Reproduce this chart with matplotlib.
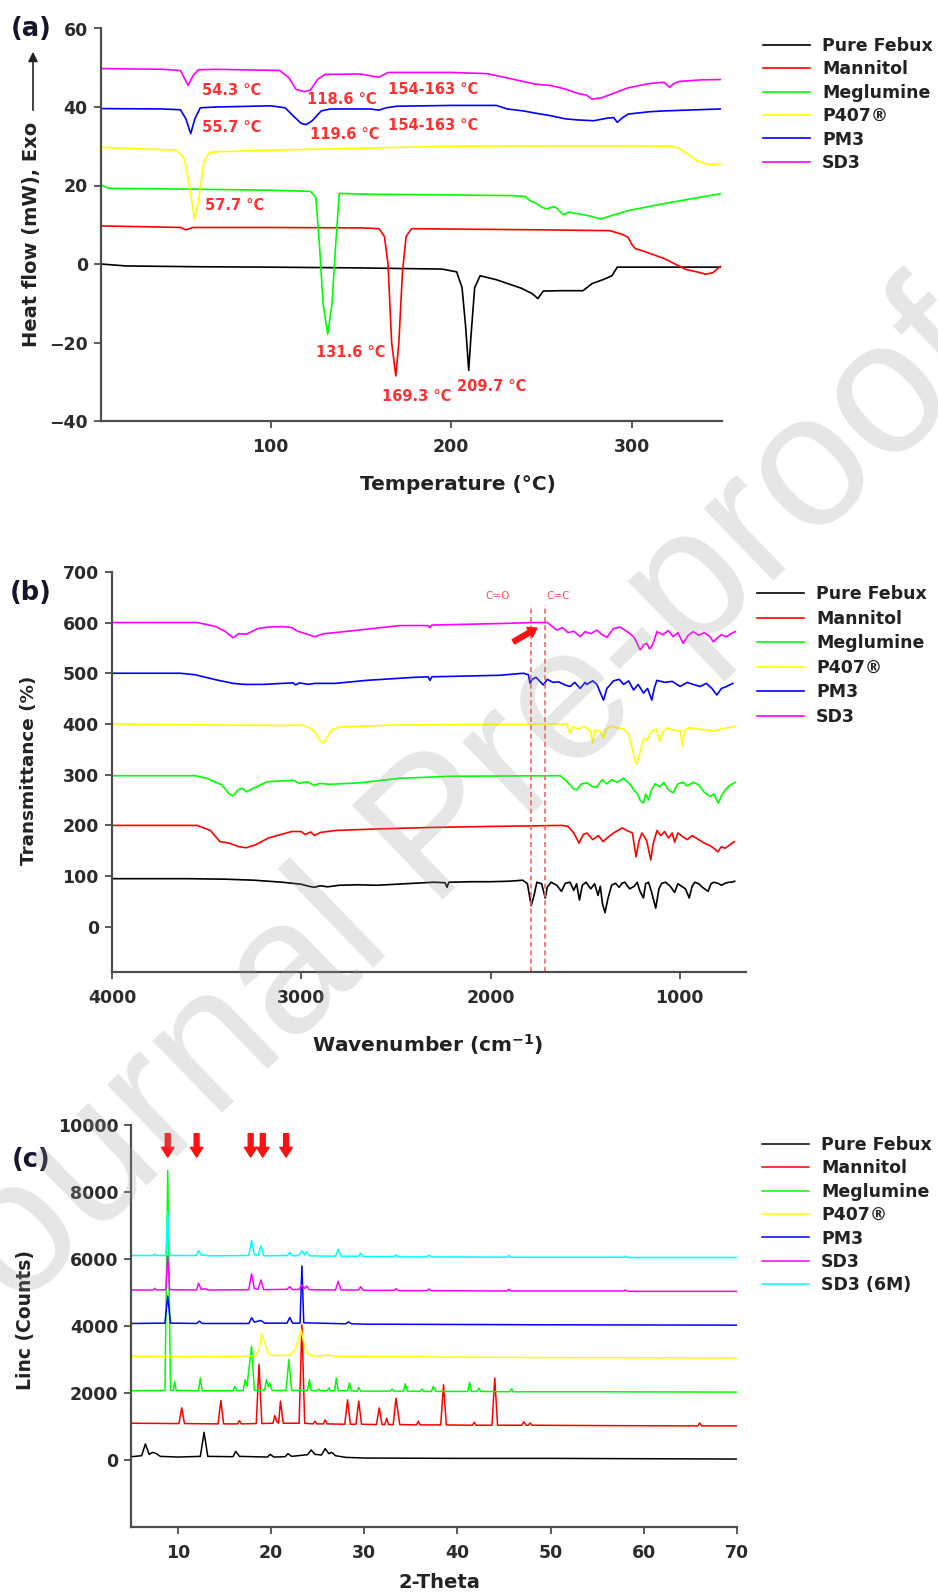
import matplotlib.pyplot as plt
import numpy as np

plt.rcParams['font.family'] = ['DejaVu Sans']
plt.rcParams['font.weight'] = 'bold'

labels = ['Pure Febux', 'Mannitol', 'Meglumine', 'P407®', 'PM3', 'SD3', 'SD3 (6M)']
colors = ['#000000', '#ff0000', '#00ff00', '#ffff00', '#0000ff', '#ff00ff', '#00ffff']

# ---------------- (a) DSC: temperature (C), heat flow (mW) ----------------
febux_dsc = [(6, 0.0), (20, -0.5), (60, -0.7), (100, -0.8), (150, -1.0), (195, -1.3), (203, -2.0),
             (206, -6), (208, -16), (209.7, -27.1), (211, -18), (213, -6), (216, -3), (225, -4),
             (239, -6.2), (245, -7.6), (248, -8.8), (251, -6.9), (260, -6.8), (273, -6.8), (278, -5),
             (284, -4), (289, -3), (292, -0.8), (320, -0.8), (349, -0.8)]
mannitol_dsc = [(6, 9.7), (30, 9.5), (50, 9.3), (53, 8.7), (57, 9.3), (100, 9.3), (150, 9.2), (160, 9.0),
                (163, 7), (165, 0), (167, -20), (169.3, -28.5), (171, -20), (173, -2), (175, 7), (178, 9.0),
                (200, 8.9), (250, 8.7), (288, 8.5), (295, 7.5), (298, 6.8), (300, 5), (302, 3.9), (305, 3.5),
                (318, 1.4), (330, -1.4), (336, -2), (341, -2.6), (345, -2.2), (349, -0.6)]
meglumine_dsc = [(6, 20.2), (10, 19.3), (50, 19.1), (100, 18.8), (122, 18.5), (125, 17), (127, 5), (129, -10),
                 (131.6, -17.9), (134, -10), (136, 5), (138, 18), (150, 17.8), (200, 17.6), (235, 17.4),
                 (241, 17.2), (244, 16.0), (247, 15.5), (250, 14.5), (253, 14), (256, 14.6), (258, 14.4),
                 (262, 12.6), (265, 13.2), (270, 12.8), (275, 12.4), (283, 11.5), (290, 12.5), (298, 13.6),
                 (318, 15.4), (349, 17.9)]
p407_dsc = [(6, 29.7), (30, 29.3), (48, 29.0), (52, 27), (55, 20), (57.7, 11.5), (60, 16), (63, 26), (66, 28.4),
            (70, 28.6), (100, 29), (150, 29.5), (200, 30), (250, 30.1), (300, 30.1), (322, 30), (326, 29.6),
            (336, 26.3), (343, 25.3), (349, 25.5)]
pm3_dsc = [(6, 39.6), (40, 39.5), (50, 39.3), (53, 37), (55.7, 33.2), (58, 37), (61, 39.8), (70, 40), (100, 40.3),
           (108, 39.8), (113, 37.5), (117, 35.8), (119.6, 35.5), (123, 36.5), (128, 39), (133, 39.5), (155, 39.5),
           (160, 39.2), (164, 39.8), (170, 40.2), (200, 40.4), (225, 40.4), (231, 39.5), (240, 39), (247, 38.4),
           (255, 37.8), (263, 37), (270, 36.7), (279, 36.5), (287, 37.2), (290, 37.3), (292, 36.1), (295, 37.3),
           (298, 38.2), (310, 38.8), (318, 39), (349, 39.5)]
sd3_dsc = [(6, 49.8), (40, 49.6), (50, 49.3), (52, 47.5), (54.3, 45.5), (57, 48), (60, 49.5), (70, 49.6),
           (105, 49.3), (110, 47.5), (114, 44.5), (118.6, 43.9), (122, 44.3), (126, 47), (130, 48.3), (150, 48.4),
           (157, 47.8), (160, 47.6), (165, 48.8), (200, 48.8), (220, 48.5), (225, 48), (235, 47), (240, 46.5),
           (247, 45.8), (255, 45.5), (263, 44.6), (270, 43.5), (275, 43), (278, 42), (283, 42.3), (290, 43.5),
           (298, 44.9), (310, 46), (318, 46.3), (321, 45), (323, 45.9), (326, 46.5), (338, 46.9), (349, 47)]

# peak labels: text, temperature, heat flow of the label's left edge
dsc_notes = [('54.3 °C', 62, 44.2), ('118.6 °C', 120, 41.8), ('154-163 °C', 165, 44.5),
             ('55.7 °C', 62, 34.7), ('119.6 °C', 122, 33.0), ('154-163 °C', 165, 35.2),
             ('57.7 °C', 63.5, 15.0), ('131.6 °C', 125, -22.5), ('169.3 °C', 161.5, -33.8),
             ('209.7 °C', 203, -31.3)]

# ---------------- (b) FTIR: wavenumber (cm-1), transmittance (%) ----------------
febux_ir = [(4000, 95), (3600, 95), (3400, 94), (3250, 92), (3100, 88), (3000, 84), (2960, 80), (2930, 78),
            (2900, 81), (2860, 79), (2800, 82), (2700, 83), (2600, 82), (2500, 84), (2400, 86), (2300, 88),
            (2240, 87), (2230, 78), (2220, 88), (2100, 89), (2000, 89), (1900, 90), (1830, 92), (1805, 85),
            (1785, 42), (1770, 62), (1755, 88), (1730, 85), (1711, 57), (1700, 78), (1680, 88), (1650, 82),
            (1625, 70), (1605, 86), (1580, 88), (1560, 72), (1545, 85), (1530, 53), (1515, 82), (1495, 88),
            (1470, 75), (1450, 85), (1432, 62), (1420, 80), (1408, 45), (1395, 28), (1380, 55), (1360, 82),
            (1340, 86), (1320, 78), (1305, 86), (1290, 88), (1265, 75), (1241, 80), (1225, 88), (1210, 70),
            (1192, 57), (1180, 85), (1165, 88), (1150, 70), (1127, 37), (1110, 75), (1095, 86), (1075, 88),
            (1050, 80), (1027, 68), (1010, 85), (990, 80), (970, 75), (950, 57), (935, 80), (920, 88),
            (900, 85), (880, 78), (850, 70), (835, 85), (820, 88), (799, 86), (780, 82), (760, 86),
            (740, 88), (723, 88), (710, 90)]
mannitol_ir = [(4000, 200), (3550, 200), (3480, 190), (3430, 168), (3380, 165), (3330, 158), (3290, 156),
               (3240, 162), (3175, 175), (3100, 183), (3050, 188), (3000, 188), (2980, 182), (2950, 187),
               (2930, 180), (2900, 186), (2821, 190), (2600, 193), (2316, 196), (2000, 198), (1620, 200),
               (1590, 198), (1560, 185), (1532, 165), (1510, 182), (1490, 185), (1460, 172), (1430, 180),
               (1405, 168), (1385, 175), (1350, 185), (1305, 195), (1280, 190), (1250, 185), (1231, 138),
               (1215, 170), (1200, 185), (1175, 170), (1153, 132), (1140, 165), (1120, 190), (1100, 180),
               (1080, 188), (1060, 175), (1040, 185), (1027, 167), (1010, 185), (985, 178), (960, 172),
               (935, 180), (900, 172), (870, 165), (840, 160), (820, 155), (799, 148), (780, 158),
               (760, 155), (735, 162), (712, 168)]
meglumine_ir = [(4000, 298), (3560, 298), (3500, 293), (3420, 280), (3380, 262), (3360, 258), (3335, 270),
                (3310, 273), (3290, 266), (3260, 272), (3181, 286), (3043, 289), (3010, 283), (2970, 286),
                (2930, 279), (2900, 283), (2850, 281), (2690, 284), (2478, 293), (2200, 297), (1632, 298),
                (1600, 288), (1560, 272), (1544, 270), (1520, 282), (1490, 284), (1460, 276), (1438, 276),
                (1410, 290), (1385, 282), (1360, 290), (1330, 285), (1297, 293), (1260, 280), (1240, 268),
                (1226, 264), (1210, 250), (1192, 244), (1180, 262), (1165, 250), (1150, 270), (1130, 282),
                (1104, 276), (1085, 285), (1060, 270), (1035, 264), (1010, 282), (982, 285), (960, 278),
                (929, 285), (900, 280), (870, 265), (839, 257), (820, 262), (796, 244), (780, 258),
                (760, 270), (740, 278), (707, 285)]
p407_ir = [(4000, 400), (3500, 398), (3100, 397), (3000, 398), (2960, 393), (2930, 385), (2905, 370),
           (2885, 362), (2865, 372), (2840, 388), (2800, 394), (2500, 398), (2000, 399), (1597, 400),
           (1580, 382), (1565, 395), (1540, 390), (1510, 395), (1474, 388), (1460, 362), (1450, 388),
           (1420, 385), (1403, 372), (1390, 390), (1360, 396), (1330, 392), (1297, 390), (1270, 380),
           (1250, 350), (1235, 325), (1226, 322), (1210, 345), (1190, 372), (1174, 368), (1150, 385),
           (1125, 390), (1110, 372), (1104, 366), (1090, 385), (1068, 392), (1030, 388), (998, 386),
           (985, 356), (975, 388), (950, 393), (900, 390), (850, 388), (824, 386), (780, 390),
           (740, 393), (707, 395)]
pm3_ir = [(4000, 500), (3640, 500), (3560, 497), (3450, 487), (3360, 480), (3300, 478), (3200, 478),
          (3100, 480), (3043, 481), (3030, 477), (3010, 481), (2960, 478), (2930, 480), (2820, 480),
          (2654, 486), (2400, 492), (2330, 493), (2320, 486), (2310, 493), (1950, 496), (1826, 500),
          (1800, 497), (1791, 480), (1780, 488), (1760, 492), (1721, 477), (1700, 488), (1670, 482),
          (1640, 483), (1600, 476), (1579, 474), (1555, 482), (1526, 470), (1500, 482), (1491, 478),
          (1460, 485), (1438, 478), (1403, 447), (1385, 470), (1350, 485), (1320, 488), (1297, 478),
          (1270, 485), (1244, 467), (1220, 478), (1192, 461), (1170, 470), (1148, 447), (1135, 470),
          (1121, 486), (1080, 482), (1040, 484), (998, 474), (960, 482), (930, 478), (892, 474),
          (860, 480), (830, 470), (804, 457), (780, 470), (752, 474), (720, 480)]
sd3_ir = [(4000, 600), (3550, 600), (3450, 592), (3400, 582), (3360, 570), (3330, 578), (3290, 577),
          (3230, 588), (3180, 591), (3100, 592), (3050, 590), (3020, 583), (2960, 576), (2930, 572),
          (2880, 578), (2800, 581), (2650, 587), (2480, 594), (2330, 594), (2320, 590), (2310, 595),
          (1950, 598), (1760, 600), (1700, 600), (1649, 585), (1620, 590), (1590, 580), (1560, 583),
          (1526, 572), (1500, 582), (1470, 578), (1438, 585), (1410, 576), (1385, 571), (1350, 588),
          (1315, 591), (1290, 585), (1262, 578), (1240, 570), (1209, 546), (1190, 556), (1174, 559),
          (1160, 548), (1148, 553), (1135, 565), (1121, 582), (1090, 576), (1060, 584), (1035, 572),
          (1010, 580), (982, 559), (955, 575), (929, 582), (900, 575), (870, 580), (840, 572),
          (823, 562), (800, 570), (780, 576), (752, 572), (730, 578), (707, 582)]

bond_lines = [1788, 1711]
bond_labels = [('C=O', 1962), ('C=C', 1645)]

# ---------------- (c) XRD: 2-theta, counts ----------------
febux_xrd = [(5, 100), (6.1, 130), (6.5, 480), (6.9, 170), (7.3, 230), (7.7, 190), (8.1, 110), (10, 90),
             (12.4, 110), (12.8, 830), (13.2, 110), (15.9, 100), (16.2, 260), (16.6, 110), (19.6, 90),
             (19.9, 170), (20.3, 90), (21.5, 100), (21.8, 190), (22.2, 110), (23.9, 160), (24.3, 300),
             (24.7, 170), (25.4, 150), (25.8, 340), (26.2, 190), (26.5, 230), (26.9, 130), (28, 80),
             (30, 60), (40, 50), (50, 50), (60, 40), (70, 30)]
mannitol_xrd = [(5, 1100), (10.1, 1090), (10.4, 1560), (10.7, 1090), (14.3, 1080), (14.6, 1780), (14.9, 1080),
                (16.4, 1080), (16.6, 1180), (16.8, 1080), (18.4, 1090), (18.7, 2860), (19.0, 1090),
                (20.2, 1100), (20.4, 1330), (20.6, 1150), (20.8, 1100), (21.0, 1760), (21.3, 1100),
                (23.0, 1100), (23.3, 4040), (23.6, 1100), (24.5, 1080), (24.7, 1160), (24.9, 1080),
                (25.6, 1080), (25.8, 1200), (26.0, 1080), (27.9, 1070), (28.2, 1800), (28.5, 1070),
                (29.1, 1070), (29.4, 1760), (29.7, 1070), (31.3, 1060), (31.6, 1560), (31.9, 1060),
                (32.2, 1060), (32.4, 1250), (32.6, 1060), (33.1, 1060), (33.4, 1850), (33.8, 1060),
                (35.6, 1050), (35.8, 1160), (36.0, 1050), (38.2, 1050), (38.5, 2250), (38.8, 1050),
                (41.6, 1040), (41.8, 1130), (42.0, 1040), (43.7, 1040), (44.0, 2450), (44.3, 1040),
                (46.9, 1040), (47.1, 1140), (47.4, 1040), (47.6, 1040), (47.8, 1110), (48.0, 1040),
                (55, 1030), (65.8, 1020), (66.0, 1110), (66.2, 1020), (70, 1020)]
meglumine_xrd = [(5, 2070), (8.6, 2080), (8.9, 8650), (9.2, 2080), (9.5, 2080), (9.65, 2350), (9.8, 2080),
                 (12.2, 2070), (12.4, 2450), (12.6, 2070), (15.9, 2070), (16.1, 2200), (16.3, 2070),
                 (17.0, 2080), (17.2, 2400), (17.4, 2200), (17.9, 3400), (18.2, 2080), (19.3, 2090),
                 (19.5, 2400), (19.7, 2200), (19.85, 2300), (20.1, 2080), (21.6, 2080), (21.9, 3000),
                 (22.2, 2080), (23.9, 2080), (24.1, 2400), (24.3, 2080), (24.9, 2070), (25.1, 2120),
                 (25.3, 2070), (26.0, 2070), (26.2, 2150), (26.4, 2070), (26.8, 2070), (27.0, 2450),
                 (27.2, 2070), (28.2, 2070), (28.4, 2300), (28.6, 2070), (29.2, 2060), (29.4, 2170),
                 (29.6, 2060), (32.8, 2060), (33.0, 2120), (33.2, 2060), (34.2, 2060), (34.4, 2280),
                 (34.6, 2060), (36.0, 2050), (36.2, 2120), (36.4, 2050), (37.2, 2050), (37.4, 2200),
                 (37.7, 2050), (41.1, 2050), (41.3, 2320), (41.5, 2050), (42.1, 2050), (42.3, 2150),
                 (42.5, 2050), (45.6, 2040), (45.8, 2130), (46.0, 2040), (55, 2040), (70, 2030)]
p407_xrd = [(5, 3100), (15, 3090), (18.3, 3110), (18.7, 3300), (19.0, 3760), (19.3, 3500), (19.7, 3180),
            (20.2, 3120), (22.0, 3130), (22.6, 3300), (23.0, 3700), (23.2, 3900), (23.5, 3500), (23.8, 3200),
            (24.3, 3120), (25.6, 3110), (26.0, 3140), (27.0, 3100), (35.6, 3090), (36.0, 3110), (36.5, 3080),
            (50, 3060), (70, 3050)]
pm3_xrd = [(5, 4080), (8.6, 4090), (8.9, 4900), (9.2, 4090), (12.0, 4080), (12.3, 4150), (12.6, 4080),
           (17.6, 4080), (17.9, 4250), (18.2, 4120), (18.6, 4150), (18.9, 4170), (19.3, 4090), (21.7, 4090),
           (22.0, 4260), (22.3, 4090), (23.1, 4090), (23.3, 5800), (23.5, 4100), (28.0, 4070), (28.3, 4130),
           (28.6, 4070), (30, 4060), (50, 4040), (70, 4030)]
sd3_xrd = [(5, 5080), (7.3, 5080), (7.5, 5130), (7.7, 5080), (8.7, 5090), (8.9, 6100), (9.1, 5090),
           (12.0, 5080), (12.2, 5280), (12.5, 5100), (12.9, 5120), (13.2, 5080), (17.6, 5090), (17.9, 5560),
           (18.2, 5120), (18.6, 5100), (18.9, 5380), (19.2, 5090), (21.7, 5100), (22.0, 5180), (22.3, 5090),
           (23.0, 5100), (23.3, 5230), (23.6, 5120), (23.8, 5200), (24.1, 5090), (26.9, 5080), (27.2, 5340),
           (27.5, 5080), (29.4, 5080), (29.6, 5180), (29.9, 5070), (33.2, 5070), (33.4, 5120), (33.7, 5060),
           (36.7, 5060), (36.9, 5110), (37.2, 5060), (45.3, 5050), (45.5, 5100), (45.8, 5050), (57.8, 5050),
           (58.0, 5080), (58.3, 5040), (70, 5040)]
sd3_6m_xrd = [(5, 6110), (7.3, 6110), (7.5, 6150), (7.7, 6110), (8.7, 6110), (8.9, 7450), (9.1, 6110),
              (12.0, 6110), (12.2, 6260), (12.5, 6120), (12.9, 6130), (13.2, 6100), (17.6, 6110),
              (17.9, 6560), (18.2, 6140), (18.6, 6110), (18.9, 6400), (19.2, 6100), (21.7, 6110),
              (22.0, 6200), (22.3, 6100), (23.0, 6110), (23.3, 6250), (23.6, 6130), (23.8, 6220),
              (24.1, 6100), (26.9, 6090), (27.2, 6300), (27.5, 6090), (29.4, 6090), (29.6, 6180),
              (29.9, 6080), (33.2, 6080), (33.4, 6130), (33.7, 6070), (36.7, 6070), (36.9, 6120),
              (37.2, 6070), (45.3, 6060), (45.5, 6110), (45.8, 6060), (57.8, 6060), (58.0, 6090),
              (58.3, 6050), (70, 6050)]

xrd_arrows = [8.9, 12.0, 17.8, 19.1, 21.6]

W, H = 938, 1596
fig = plt.figure(figsize=(W / 100, H / 100), dpi=100)


def fx(px):
    return px / W


def fy(py):
    return 1 - py / H


def style(ax):
    for s in ['top', 'right']:
        ax.spines[s].set_visible(False)
    for s in ['left', 'bottom']:
        ax.spines[s].set_color('#4d4d4d')
        ax.spines[s].set_linewidth(1.6)
    ax.tick_params(direction='out', length=5, width=1.3, color='#4d4d4d',
                   labelsize=12.5, labelcolor='#2b2b2b')
    ax.tick_params(axis='y', pad=4.5)
    ax.tick_params(axis='x', pad=7.5)


def legend(ax, handles, names, x_px, y_px, spacing):
    lg = ax.legend(handles, names, loc='upper left', bbox_to_anchor=(fx(x_px), fy(y_px)),
                   bbox_transform=fig.transFigure, frameon=False, borderpad=0, borderaxespad=0,
                   handlelength=2.68, handletextpad=0.72, labelspacing=spacing,
                   prop={'size': 12.5, 'weight': 'bold'})
    for t in lg.get_texts():
        t.set_color('#222222')


def plot_set(ax, sets, lw):
    handles = []
    for data, c in zip(sets, colors):
        x, y = np.array(data).T
        h, = ax.plot(x, y, color=c, lw=lw)
        handles.append(h)
    return handles


# ---- (a) ----
axa = fig.add_axes([fx(101), fy(421), fx(621), (421 - 28.5) / H])
ha = plot_set(axa, [febux_dsc, mannitol_dsc, meglumine_dsc, p407_dsc, pm3_dsc, sd3_dsc], 1.2)
axa.set_xlim(6, 350)
axa.set_ylim(-40, 60)
axa.set_xticks([100, 200, 300])
axa.set_yticks([-40, -20, 0, 20, 40, 60])
style(axa)
for txt, t, q in dsc_notes:
    axa.text(t, q, txt, color='#ff3030', fontsize=10.5, fontweight='bold', ha='left', va='center')
legend(axa, ha, labels[:6], 763, 37, 0.31)

# ---- (b) ----
axb = fig.add_axes([fx(112), fy(971.5), fx(634), (971.5 - 571.8) / H])
hb = plot_set(axb, [febux_ir, mannitol_ir, meglumine_ir, p407_ir, pm3_ir, sd3_ir], 1.2)
axb.set_xlim(4000, 650)
axb.set_ylim(-88, 700)
axb.set_xticks([4000, 3000, 2000, 1000])
axb.set_yticks(range(0, 701, 100))
style(axb)
for wn in bond_lines:
    axb.plot([wn, wn], [-88, 634], color='#ff6060', lw=1.2, ls=(0, (3, 2)))
for txt, wn in bond_labels:
    axb.text(wn, 652, txt, color='#ff5050', fontsize=7.5, fontweight='normal', ha='center', va='center')
axb.annotate('', xy=(1755, 589), xytext=(1879, 562),
             arrowprops=dict(facecolor='#ff1010', edgecolor='#ff1010', width=3.5, headwidth=8,
                             headlength=6, shrink=0))
legend(axb, hb, labels[:6], 757, 585, 0.38)

# ---- (c) ----
axc = fig.add_axes([fx(131.4), fy(1527), fx(605.6), (1527 - 1125.3) / H])
hc = plot_set(axc, [febux_xrd, mannitol_xrd, meglumine_xrd, p407_xrd, pm3_xrd, sd3_xrd, sd3_6m_xrd], 1.1)
axc.set_xlim(5, 70)
axc.set_ylim(-2000, 10000)
axc.set_xticks(range(10, 71, 10))
axc.set_yticks(range(0, 10001, 2000))
style(axc)
for p in xrd_arrows:
    axc.annotate('', xy=(p, 9050), xytext=(p, 9750),
                 arrowprops=dict(facecolor='#ff1010', edgecolor='#ff1010', width=3.5, headwidth=9,
                                 headlength=7, shrink=0))
legend(axc, hc, labels, 762, 1136, 0.31)

# ---- axis titles and panel letters ----
fig.text(fx(31.5), fy(234), 'Heat flow (mW), Exo', rotation=90, ha='center', va='center',
         fontsize=14, color='#222222')
fig.add_artist(plt.Line2D([fx(33), fx(33)], [fy(110), fy(60)], color='#222222', lw=1.2))
axa.annotate('', xy=(fx(33), fy(49)), xytext=(fx(33), fy(64)), xycoords='figure fraction',
             textcoords='figure fraction',
             arrowprops=dict(arrowstyle='-|>', color='#222222', lw=1.2, mutation_scale=14))
fig.text(fx(458), fy(485), 'Temperature (°C)', ha='center', va='center', fontsize=14.5, color='#222222')

fig.text(fx(28.5), fy(770), 'Transmittance (%)', rotation=90, ha='center', va='center',
         fontsize=13.2, color='#222222')
fig.text(fx(428), fy(1045), 'Wavenumber (cm$^{\\mathbf{-1}}$)', ha='center', va='center',
         fontsize=14.5, color='#222222')

fig.text(fx(25), fy(1320), 'Linc (Counts)', rotation=90, ha='center', va='center',
         fontsize=13.5, color='#222222')
fig.text(fx(439.5), fy(1582), '2-Theta', ha='center', va='center', fontsize=14, color='#222222')

for letter, py in [('(a)', 28.5), ('(b)', 593), ('(c)', 1160)]:
    fig.text(fx(31), fy(py), letter, ha='center', va='center', fontsize=18.5, color='#15152b')

# watermark
fig.text(fx(440), fy(835), 'Journal Pre-proof', rotation=44, ha='center', va='center',
         fontsize=136, fontweight='normal', family='Liberation Sans', color='#9a9a9a',
         alpha=0.25, zorder=10)

fig.savefig('out.png', dpi=100)
